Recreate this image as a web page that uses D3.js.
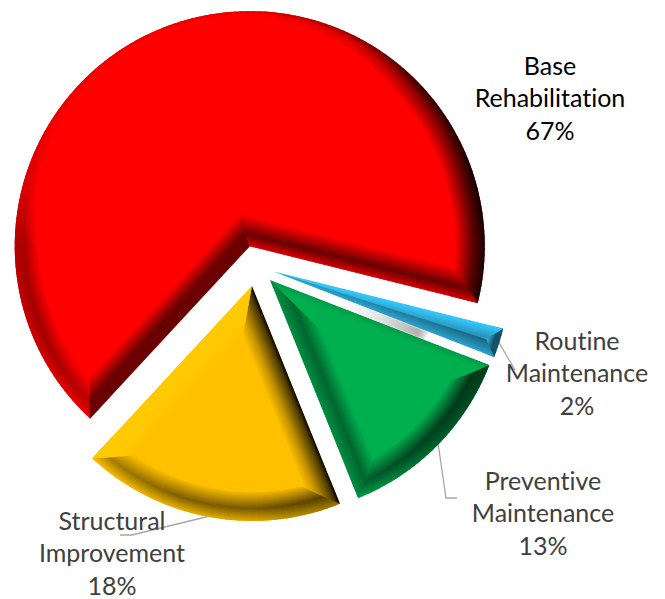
<!DOCTYPE html>
<html><head><meta charset="utf-8">
<script src="https://cdn.jsdelivr.net/npm/d3@7"></script>
<style>html,body{margin:0;padding:0;background:#fff}svg{display:block}text{font-family:Lato,"Open Sans",sans-serif;font-variant-ligatures:none}</style>
</head><body><div id="chart"></div>
<script>
// ---- data (pie order, clockwise from the first slice) ----
const categories = ["Routine Maintenance","Preventive Maintenance","Structural Improvement","Base Rehabilitation"];
const values = [2,13,18,67];
const labelLines = [["Routine","Maintenance"],["Preventive","Maintenance"],["Structural","Improvement"],["Base","Rehabilitation"]];

// ---- layout & style ----
const width=665,height=599;
const cx=255.6,cy=265.8,R=235,explode=20.5,firstAngle=104;
const baseColors=["#30b4e4","#00b050","#ffc000","#ff0000"];
const labelColors=["#404040","#404040","#404040","#000000"];
const labelPos=[[577,349.5],[543,489.5],[112,529.5],[550,74.5]];
const lineGap=32.5;
const bevelW=[13.5,29,29,29];
// bevel lighting on the outer rim: [angle from top, rim factor, mid factor, width]
const rimLight=[
 [[104,.45,.45,13],[112,.45,.45,13]],
 [[111,.34,.3,30],[135,.58,.36,30],[158,.9,.55,30]],
 [[158,.6,.3,30],[180,.88,.46,30],[200,.92,.5,30],[223,1,.68,28]],
 [[222,.95,.74,27],[250,.8,.62,27],[270,.7,.66,24],[285,.85,.86,14],[300,.9,.95,10],[330,.92,1,8],[360,.88,1,8],[385,.58,.86,14],[405,.2,.6,24],[435,.05,.4,30],[465,.12,.38,30]]
];
// bevel lighting along straight edges: [distance from edge, factor]
const startEdge=[[[0,1.12],[13.5,.8]],[[0,.88],[8,1],[29,1]],[[0,.02],[4,.28],[10,.5],[18,.78],[27,1],[29,1]],[[0,.42],[13,.42],[29,1]]];
const endEdge=[[[0,.9],[13.5,.55]],[[0,.8],[13,.58],[29,1]],[[0,1.05],[18,1.04],[29,1]],[[0,.85],[11,.4],[29,1]]];
const leaders=[[[498,341],[515,370]],[[438,443],[446,498],[457,498]],[[210,516],[132,535],[120,535]]];

const rad=Math.PI/180;
const svg=d3.select("#chart").append("svg").attr("width",width).attr("height",height);
const defs=svg.append("defs");
const pie=d3.pie().sort(null).startAngle(firstAngle*rad).endAngle((firstAngle+360)*rad);
const arcs=pie(values);
const polar=(p,deg)=>[p*Math.sin(deg*rad),-p*Math.cos(deg*rad)];
const shade=(hex,k)=>{const c=d3.rgb(hex);return d3.rgb(c.r*k,c.g*k,c.b*k).clamp().formatHex();};
const line=d3.line();
let uid=0;
const apexes=arcs.map(a=>{const m=(a.startAngle+a.endAngle)/2;return [cx+explode*Math.sin(m),cy-explode*Math.cos(m)];});
defs.append("filter").attr("id","soft").append("feGaussianBlur").attr("stdDeviation",.8);
defs.append("filter").attr("id","tiny").attr("x","-5%").attr("y","-5%").attr("width","110%").attr("height","110%")
  .append("feGaussianBlur").attr("stdDeviation",.45);

// soft grey smudge in the gap between the two lower-right slices
(function(){
  const b=arcs[0].endAngle/rad,g=arcs[1].startAngle/rad;
  const P=(i,p,a)=>{const q=polar(p,a);return [apexes[i][0]+q[0],apexes[i][1]+q[1]];};
  const pts=[P(0,70,b),P(0,165,b),P(1,172,g),P(1,72,g)];
  const id="smudge";
  const lg=defs.append("linearGradient").attr("id",id).attr("gradientUnits","userSpaceOnUse")
    .attr("x1",pts[0][0]).attr("y1",pts[0][1]).attr("x2",pts[1][0]).attr("y2",pts[1][1]);
  [[0,"#ffffff"],[.45,"#e6e6e6"],[.9,"#b0b0b0"],[.97,"#d8d8d8"],[1,"#ffffff"]].forEach(s=>lg.append("stop").attr("offset",s[0]).attr("stop-color",s[1]));
  svg.append("path").attr("d",line(pts)+"Z").attr("fill","url(#"+id+")").attr("filter","url(#soft)");
})();

// leader lines
svg.append("g").selectAll("path").data(leaders).join("path")
  .attr("d",d=>line(d)).attr("fill","none").attr("stroke","#a6a6a6").attr("stroke-width",1.3);

const slices=svg.append("g").selectAll("g").data(arcs).join("g")
  .attr("transform",(d,i)=>`translate(${apexes[i]})`).attr("filter","url(#tiny)");

slices.each(function(a,i){
  const g=d3.select(this),col=baseColors[i],W=bevelW[i];
  const a0=a.startAngle/rad,a1=a.endAngle/rad,mid=(a0+a1)/2,half=(a1-a0)/2;
  g.append("path").attr("d",d3.arc().innerRadius(0).outerRadius(R)(a)).attr("fill",col);

  // rim bevel: thin wedges, each with a radial gradient lit by its facing angle
  const tab=rimLight[i],keys=tab.map(t=>t[0]);
  const sRim=d3.scaleLinear().domain(keys).range(tab.map(t=>t[1]));
  const sMid=d3.scaleLinear().domain(keys).range(tab.map(t=>t[2]));
  const sW=d3.scaleLinear().domain(keys).range(tab.map(t=>t[3]));
  const step=1.5,n=Math.ceil((a1-a0)/step);
  const wedge=d3.arc().innerRadius(R-W).outerRadius(R);
  for(let j=0;j<n;j++){
    const s=a0+(a1-a0)*j/n,e=a0+(a1-a0)*(j+1)/n,c=(s+e)/2;
    const w=Math.min(sW(c),W*1.05),id="r"+(uid++);
    const rg=defs.append("radialGradient").attr("id",id).attr("gradientUnits","userSpaceOnUse")
      .attr("cx",0).attr("cy",0).attr("r",R);
    [[R-w,1],[R-w*.42,sMid(c)],[R,sRim(c)]].forEach(t=>rg.append("stop").attr("offset",t[0]/R).attr("stop-color",shade(col,t[1])));
    g.append("path").attr("d",wedge({startAngle:s*rad,endAngle:Math.min(e+.4,a1)*rad})).attr("fill",`url(#${id})`);
  }

  // straight-edge bevels, mitred against the rim and each other
  const inner=polar(W/Math.sin(half*rad),mid);
  [[a0,1,startEdge[i]],[a1,-1,endEdge[i]]].forEach(([ang,sgn,stops])=>{
    const pts=[[0,0],polar(R,ang)];
    for(let t=2;t<=W;t+=2)pts.push(polar(R-t,ang+sgn*Math.asin(t/(R-t))/rad));
    pts.push(polar(R-W,ang+sgn*Math.asin(W/(R-W))/rad));
    pts.push(inner);
    const nrm=polar(W,ang+sgn*90),id="e"+(uid++);
    const lg=defs.append("linearGradient").attr("id",id).attr("gradientUnits","userSpaceOnUse")
      .attr("x1",0).attr("y1",0).attr("x2",nrm[0]).attr("y2",nrm[1]);
    stops.forEach(t=>lg.append("stop").attr("offset",t[0]/W).attr("stop-color",shade(col,t[1])));
    g.append("path").attr("d",line(pts)+"Z").attr("fill",`url(#${id})`);
  });
});

// labels
const lab=svg.append("g").selectAll("text").data(arcs).join("text")
  .attr("text-anchor","middle").attr("font-size",25).attr("fill",(d,i)=>labelColors[i]);
lab.each(function(a,i){
  const t=d3.select(this),lines=labelLines[i].concat([values[i]+"%"]);
  lines.forEach((s,k)=>t.append("tspan").attr("x",labelPos[i][0]).attr("y",labelPos[i][1]+k*lineGap).text(s));
});
</script></body></html>
